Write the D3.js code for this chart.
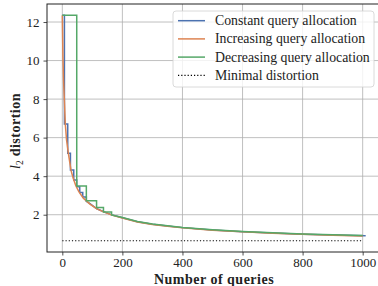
<!DOCTYPE html>
<html>
<head>
<meta charset="utf-8">
<script src="https://cdn.jsdelivr.net/npm/d3@7"></script>
<style>
  body { margin: 0; background: #fff; }
  text { font-family: "Liberation Serif", "DejaVu Serif", serif; }
</style>
</head>
<body>
<svg width="378" height="286"></svg>
<script>
// values: [queries, distortion]
const constantAlloc = [
  [0, 12.35], [7, 12.35], [7, 6.71], [18, 6.71], [18, 5.19], [27, 5.19], [27, 4.32],
  [38, 4.32], [38, 3.8], [48, 3.8], [48, 3.45], [58, 3.45], [58, 3.15], [68, 3.15],
  [68, 2.92], [80, 2.92], [80, 2.7], [92, 2.58], [115, 2.31], [136, 2.17], [165, 1.99],
  [200, 1.84], [250, 1.63], [300, 1.5], [350, 1.41], [400, 1.33], [500, 1.21],
  [600, 1.12], [700, 1.05], [800, 0.99], [900, 0.95], [1010, 0.91]
];
const increasingAlloc = [
  [0, 12.35], [2, 10.2], [4, 9.0], [7, 7.9], [10, 6.7], [14, 5.9], [20, 5.2], [29, 4.3],
  [36, 3.9], [45, 3.5], [55, 3.2], [70, 2.86], [92, 2.55], [115, 2.3], [136, 2.16],
  [165, 1.98], [200, 1.83], [250, 1.62], [300, 1.49], [350, 1.4], [400, 1.32],
  [500, 1.2], [600, 1.11], [700, 1.04], [800, 0.98], [900, 0.94], [1000, 0.9]
];
const decreasingAlloc = [
  [0, 12.35], [48, 12.35], [48, 3.49], [80, 3.49], [80, 2.73], [114, 2.73], [114, 2.38],
  [137, 2.38], [137, 2.14], [164, 2.14], [164, 1.99], [200, 1.86], [250, 1.65],
  [300, 1.52], [400, 1.34], [500, 1.22], [600, 1.13], [700, 1.06], [800, 1.0],
  [900, 0.96], [1000, 0.92]
];
const minimalDistortion = [[0, 0.65], [1000, 0.65]];

const series = [
  { name: "Constant query allocation", values: constantAlloc, color: "#4c72b0" },
  { name: "Increasing query allocation", values: increasingAlloc, color: "#dd8452" },
  { name: "Decreasing query allocation", values: decreasingAlloc, color: "#55a868" }
];
const xTicks = [0, 200, 400, 600, 800, 1000];
const yTicks = [2, 4, 6, 8, 10, 12];

const svg = d3.select("svg");
const pl = 47, pt = 4, pb = 252, pr = 381;

const x = d3.scaleLinear().domain([-51, 1061]).range([pl, pr]);
const y = d3.scaleLinear().domain([0.065, 12.935]).range([pb, pt]);

svg.append("clipPath").attr("id", "plot")
  .append("rect").attr("x", pl).attr("y", pt)
  .attr("width", pr - pl).attr("height", pb - pt);

// grid
const grid = svg.append("g").attr("stroke", "#b0b0b0").attr("stroke-width", 0.8);
grid.selectAll(".gx").data(xTicks).enter().append("line")
  .attr("x1", d => x(d)).attr("x2", d => x(d)).attr("y1", pt).attr("y2", pb);
grid.selectAll(".gy").data(yTicks).enter().append("line")
  .attr("x1", pl).attr("x2", pr).attr("y1", d => y(d)).attr("y2", d => y(d));

// lines
const line = d3.line().x(d => x(d[0])).y(d => y(d[1]));
const lines = svg.append("g").attr("clip-path", "url(#plot)");
lines.selectAll("path.s").data(series).enter().append("path")
  .attr("fill", "none")
  .attr("stroke", d => d.color)
  .attr("stroke-width", 1.5)
  .attr("d", d => line(d.values));
lines.append("path")
  .attr("fill", "none").attr("stroke", "#000").attr("stroke-width", 1.2)
  .attr("stroke-dasharray", "1.2,2")
  .attr("d", line(minimalDistortion));

// axes
const xAxis = svg.append("g").attr("transform", `translate(0,${pb})`)
  .call(d3.axisBottom(x).tickValues(xTicks).tickFormat(d3.format("d"))
    .tickSize(3.5).tickPadding(2.5));
const yAxis = svg.append("g").attr("transform", `translate(${pl},0)`)
  .call(d3.axisLeft(y).tickValues(yTicks).tickSize(3.5).tickPadding(4));
[xAxis, yAxis].forEach(a => {
  a.select(".domain").remove();
  a.selectAll("text").attr("font-size", 13).attr("fill", "#222")
    .style("font-family", "'Liberation Serif', serif");
  a.selectAll("line").attr("stroke", "#222").attr("stroke-width", 0.8);
});

// frame
svg.append("rect").attr("x", pl).attr("y", pt)
  .attr("width", pr - pl).attr("height", pb - pt)
  .attr("fill", "none").attr("stroke", "#222").attr("stroke-width", 1);

// axis labels
svg.append("text").attr("x", 214).attr("y", 284).attr("text-anchor", "middle")
  .attr("font-size", 14).attr("font-weight", "bold").attr("letter-spacing", 0.5)
  .attr("fill", "#222").text("Number of queries");
const yl = svg.append("text").attr("transform", "translate(20,131) rotate(-90)")
  .attr("text-anchor", "middle").attr("font-size", 14).attr("fill", "#222");
yl.append("tspan").attr("font-style", "italic").text("l");
yl.append("tspan").attr("font-size", 9.5).attr("dy", 3).text("2");
yl.append("tspan").attr("dy", -3).attr("font-weight", "bold")
  .attr("letter-spacing", 0.5).text(" distortion");

// legend
const legendItems = series.map(s => ({ name: s.name, color: s.color, dash: null }))
  .concat([{ name: "Minimal distortion", color: "#000", dash: "1.2,2" }]);
const lg = svg.append("g");
lg.append("rect").attr("x", 173).attr("y", 11).attr("width", 201).attr("height", 76)
  .attr("rx", 3).attr("fill", "#fff").attr("fill-opacity", 0.8)
  .attr("stroke", "#d0d0d0").attr("stroke-width", 0.8);
const rows = lg.selectAll("g.row").data(legendItems).enter().append("g")
  .attr("transform", (d, i) => `translate(0,${20.7 + i * 18.2})`);
rows.append("line").attr("x1", 178).attr("x2", 205)
  .attr("stroke", d => d.color).attr("stroke-width", d => d.dash ? 1.2 : 1.5)
  .attr("stroke-dasharray", d => d.dash);
rows.append("text").attr("x", 215).attr("y", 4.5).attr("font-size", 13.8)
  .attr("fill", "#222").text(d => d.name);
</script>
</body>
</html>
